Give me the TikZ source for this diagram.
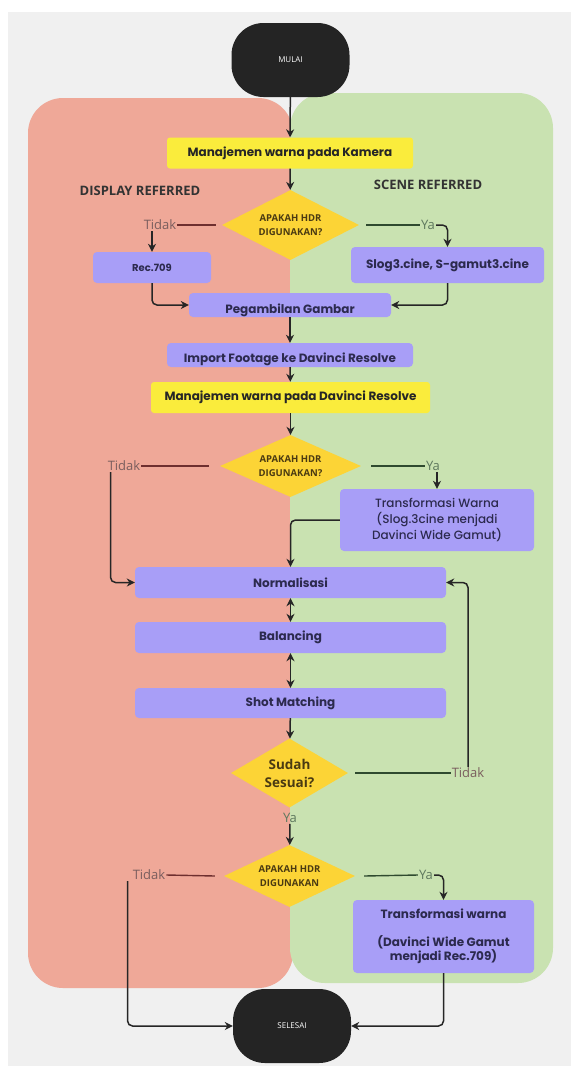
\documentclass[tikz,border=0pt]{standalone}
\usepackage{fontspec}
\newfontfamily\pop{Poppins}
\newfontfamily\popmed{Poppins Medium}
\newfontfamily\osans{Open Sans}
\usetikzlibrary{shapes.geometric,arrows.meta,positioning}
\definecolor{bggray}{HTML}{F0F0F0}
\definecolor{redpanel}{HTML}{EFA898}
\definecolor{greenpanel}{HTML}{C9E2B1}
\definecolor{lilac}{HTML}{A89EF7}
\definecolor{lemon}{HTML}{FAEC3C}
\definecolor{gold}{HTML}{FCD436}
\definecolor{ink}{HTML}{2C2A4E}
\definecolor{goldink}{HTML}{4A3A12}
\definecolor{tidakline}{HTML}{6E2F2F}
\definecolor{yaline}{HTML}{2F4A2F}
\definecolor{tidaktext}{HTML}{7A5E5E}
\definecolor{yatext}{HTML}{5E785E}

\begin{document}
\begin{tikzpicture}[x=1pt,y=-1pt,
  term/.style={fill=black!86, rounded corners=32pt, text=white, inner sep=0pt,
    font=\osans\fontsize{8}{9}\selectfont, minimum width=118pt, minimum height=74pt},
  yellowbox/.style={fill=lemon, rounded corners=3pt, inner sep=0pt, text=black!85,
    font=\pop\bfseries\fontsize{12}{14}\selectfont},
  purplebox/.style={fill=lilac, rounded corners=4pt, inner sep=0pt, text=ink, align=center,
    font=\pop\bfseries\fontsize{12}{14}\selectfont},
  decision/.style={diamond, fill=gold, inner sep=0pt, align=center, text=goldink,
    font=\osans\bfseries\fontsize{9.5}{14}\selectfont},
  tidaklab/.style={text=tidaktext, inner sep=1pt, font=\osans\fontsize{13}{14}\selectfont},
  yalab/.style={text=yatext, inner sep=1pt, font=\osans\fontsize{13}{14}\selectfont},
  lanelab/.style={text=black!80, font=\osans\bfseries\fontsize{13}{14}\selectfont},
  arr/.style={-{Stealth[length=8pt,width=8pt]}, line width=1.5pt, black!85},
  twoarr/.style={{Stealth[length=8pt,width=8pt]}-{Stealth[length=8pt,width=8pt]}, line width=1.5pt, black!85},
  tidakln/.style={line width=1.4pt, tidakline},
  yaln/.style={line width=1.4pt, yaline}]
\useasboundingbox (0,0) rectangle (571,1066);
\fill[white] (0,0) rectangle (571,1066);
\fill[bggray] (8,12) rectangle (571,1066);
\fill[redpanel, rounded corners=35pt] (28,98) rectangle (293,988);
\fill[greenpanel, rounded corners=35pt] (290,93) rectangle (553,983);
\node[lanelab] (display) at (140,191) {DISPLAY REFERRED};
\node[lanelab] (scene) at (428,185) {SCENE REFERRED};

\node[term] (mulai) at (290.5,60) {MULAI};
\node[yellowbox, minimum width=246pt, minimum height=31pt] (kamera) at (290,153) {Manajemen warna pada Kamera};
\node[decision, minimum width=137pt, minimum height=70pt, aspect=1.96] (hdr1) at (290.5,225) {APAKAH HDR\\DIGUNAKAN?};
\node[tidaklab] (tidak1) at (160,225) {Tidak};
\node[yalab] (ya1) at (428,225) {Ya};
\node[purplebox, minimum width=118pt, minimum height=31pt, font=\pop\bfseries\fontsize{10}{12}\selectfont] (rec) at (152,267.5) {Rec.709};
\node[purplebox, minimum width=193pt, minimum height=36pt] (slog) at (447.5,265) {Slog3.cine, S-gamut3.cine};
\node[purplebox, minimum width=202pt, minimum height=24pt] (ambil) at (290,305) {\rule{0pt}{20pt}Pegambilan Gambar};
\node[purplebox, minimum width=246pt, minimum height=24pt] (import) at (290,355) {\rule{0pt}{18pt}Import Footage ke Davinci Resolve};
\node[yellowbox, minimum width=279pt, minimum height=31pt] (davinci) at (290.5,397.5) {Manajemen warna pada Davinci Resolve};
\node[decision, minimum width=141pt, minimum height=62pt, aspect=2.27] (hdr2) at (290.5,466) {APAKAH HDR\\DIGUNAKAN?};
\node[tidaklab] (tidak2) at (124,466) {Tidak};
\node[yalab] (ya2) at (433,466) {Ya};
\node[purplebox, minimum width=194pt, minimum height=62pt, font=\popmed\fontsize{12}{16}\selectfont] (trans1) at (437,520) {Transformasi Warna\\(Slog.3cine menjadi\\Davinci Wide Gamut)};
\node[purplebox, minimum width=311pt, minimum height=31pt] (normal) at (290.5,582.5) {Normalisasi};
\node[purplebox, minimum width=311pt, minimum height=31pt] (balance) at (290.5,637.5) {Balancing};
\node[purplebox, minimum width=311pt, minimum height=30pt] (shot) at (290.5,703) {Shot Matching};
\node[decision, minimum width=117pt, minimum height=69pt, aspect=1.7, font=\osans\bfseries\fontsize{13.5}{18}\selectfont] (sudah) at (289.5,773) {Sudah\\Sesuai?};
\node[tidaklab] (tidak3) at (468,773) {Tidak};
\node[yalab] (ya3) at (290,818) {Ya};
\node[decision, minimum width=131pt, minimum height=62pt, aspect=2.11] (hdr3) at (289.5,876) {APAKAH HDR\\DIGUNAKAN};
\node[tidaklab] (tidak4) at (149,875) {Tidak};
\node[yalab] (ya4) at (426,875) {Ya};
\node[purplebox, minimum width=181pt, minimum height=73pt] (trans2) at (443.5,936.5) {Transformasi warna\\[14pt](Davinci Wide Gamut\\menjadi Rec.709)};
\node[term] (selesai) at (292,1026) {SELESAI};

\draw[arr] (mulai) -- (kamera);
\draw[arr] (kamera) -- (hdr1);
\draw[tidakln] (tidak1.east) -- ([xshift=-6pt]hdr1.west);
\draw[yaln] ([xshift=7pt]hdr1.east) -- (ya1.west);
\draw[arr] (tidak1.south -| rec.north) -- (rec.north);
\draw[arr, rounded corners=5pt] (ya1.east) -| (slog.north);
\draw[arr, rounded corners=5pt] (rec.south) |- (ambil.west);
\draw[arr, rounded corners=5pt] (slog.south) |- (ambil.east);
\draw[arr] (ambil) -- (import);
\draw[arr] (import) -- (davinci);
\draw[arr] (davinci) -- (hdr2);
\draw[tidakln] (tidak2.east) -- ([xshift=-11pt]hdr2.west);
\draw[yaln] ([xshift=10pt]hdr2.east) -- (ya2.west);
\draw[arr, rounded corners=5pt] ([xshift=4pt]tidak2.south west) |- (normal.west);
\draw[arr] (ya2.south -| trans1.north) -- (trans1.north);
\draw[arr, rounded corners=5pt] (trans1.west) -| (normal.north);
\draw[twoarr] (normal) -- (balance);
\draw[twoarr] (balance) -- (shot);
\draw[arr] (shot) -- (sudah);
\draw[yaln] ([xshift=7pt]sudah.east) -- (tidak3.west);
\draw[arr, rounded corners=5pt] (tidak3.north) |- (normal.east);
\draw[arr] (ya3) -- (hdr3);
\draw[tidakln] (tidak4.east) -- ([xshift=-9pt]hdr3.west);
\draw[yaln] ([xshift=9pt]hdr3.east) -- (ya4.west);
\draw[arr, rounded corners=5pt] (ya4.east) -| (trans2.north);
\draw[arr, rounded corners=5pt] ([xshift=-4pt]tidak4.south west) |- (selesai.west);
\draw[arr, rounded corners=5pt] (trans2.south) |- (selesai.east);
\end{tikzpicture}
\end{document}
